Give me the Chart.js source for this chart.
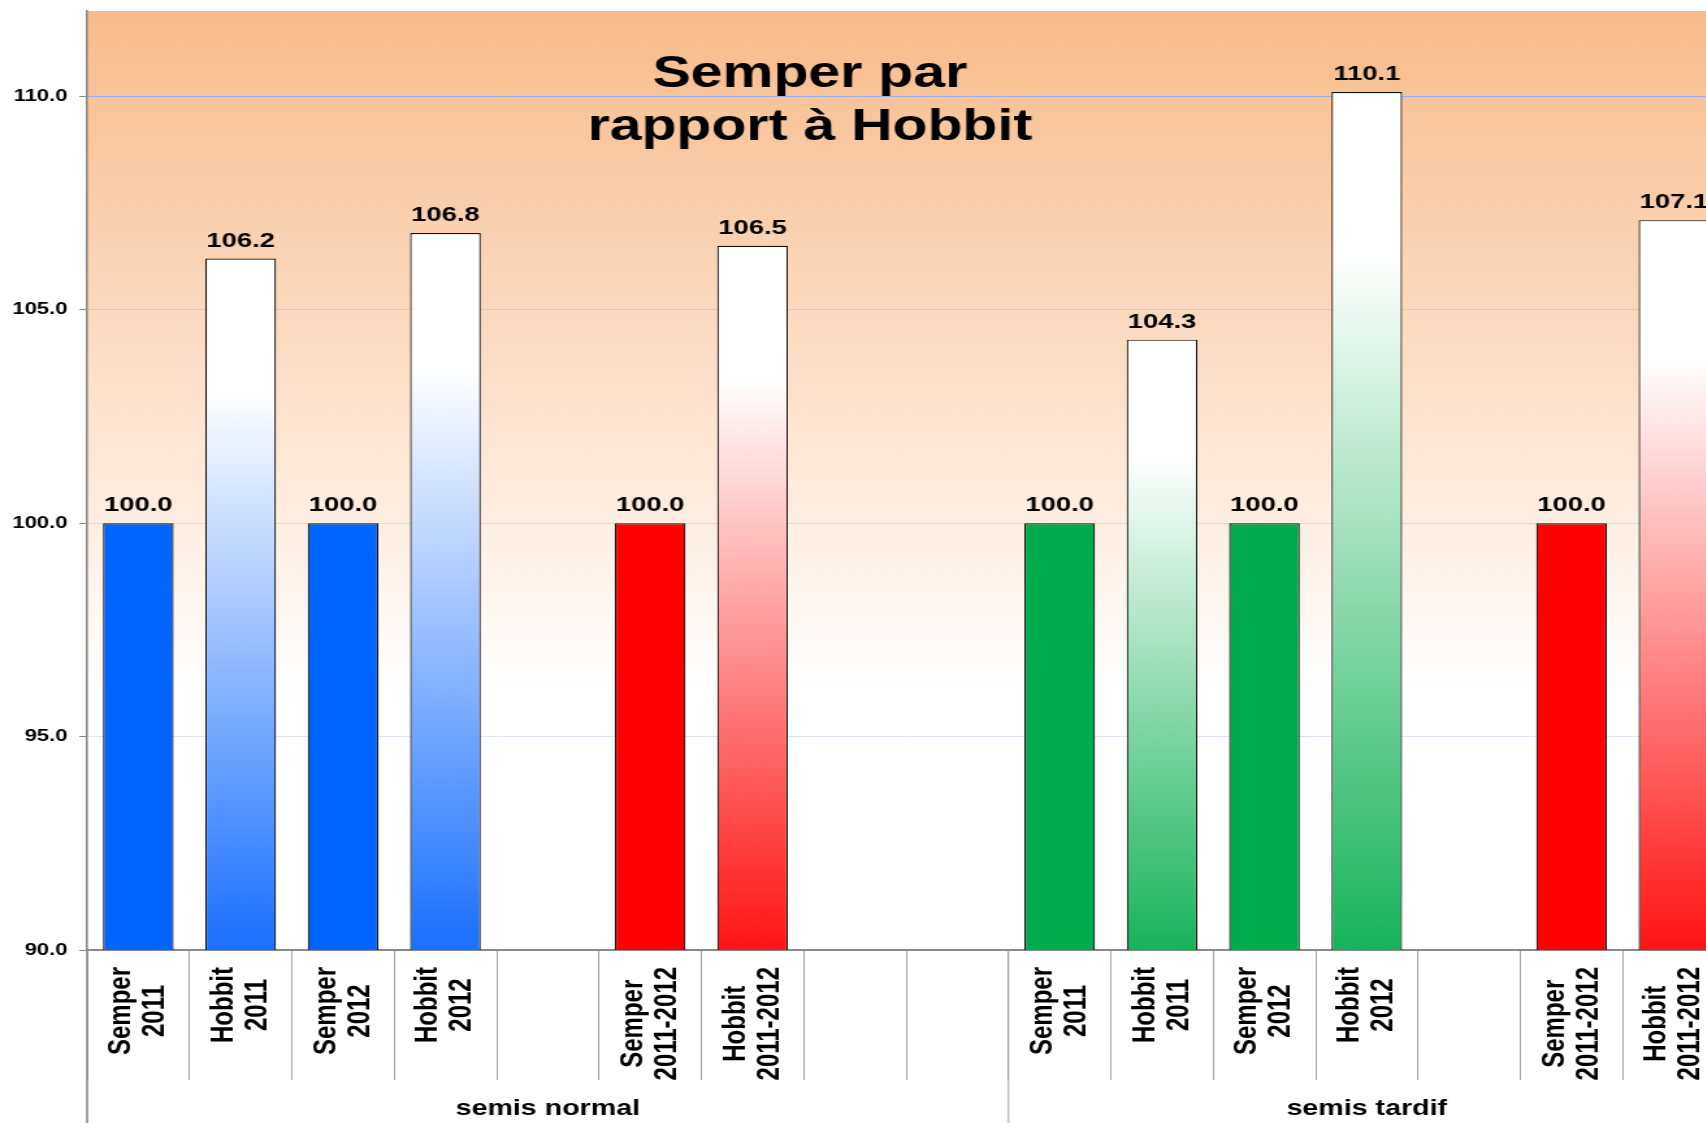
<!DOCTYPE html>
<html>
<head>
<meta charset="utf-8">
<script src="https://cdn.jsdelivr.net/npm/chart.js@4.4.1/dist/chart.umd.min.js"></script>
<style>
  html, body { margin: 0; padding: 0; background: #fff; overflow: hidden; }
  /* the original picture is stretched sideways, so the chart is too */
  #wrap { width: 1327px; height: 1123px; transform: scaleX(1.3); transform-origin: 0 0; }
</style>
</head>
<body>
<div id="wrap"><canvas id="chart" width="1327" height="1123"></canvas></div>
<script>
// Data
const categories = [
  ['Semper', '2011'], ['Hobbit', '2011'], ['Semper', '2012'], ['Hobbit', '2012'], [''],
  ['Semper', '2011-2012'], ['Hobbit', '2011-2012'], [''], [''],
  ['Semper', '2011'], ['Hobbit', '2011'], ['Semper', '2012'], ['Hobbit', '2012'], [''],
  ['Semper', '2011-2012'], ['Hobbit', '2011-2012']
];
const values = [100.0, 106.2, 100.0, 106.8, null, 100.0, 106.5, null, null, 100.0, 104.3, 100.0, 110.1, null, 100.0, 107.1];
const groupNames = ['semis normal', 'semis tardif'];
const groupSizes = [9, 7];
const yTicks = [90, 95, 100, 105, 110];
const titleLines = ['Semper par', 'rapport à Hobbit'];

// Styles
const tones = {
  blue: { solid: '#0064ff', end: '#1a70ff' },
  red: { solid: '#ff0000', end: '#ff1414' },
  green: { solid: '#00ab4e', end: '#17b35c' }
};
const barTone = ['blue', 'blue', 'blue', 'blue', null, 'red', 'red', null, null,
  'green', 'green', 'green', 'green', null, 'red', 'red'];
const gridShade = { 95: '#dfe5f2', 100: '#d3dbf0', 105: '#c3cde9', 110: '#96b2ea' };
const FONT = "'Liberation Sans', Arial, Helvetica, sans-serif";

function barColor(c) {
  const i = c.dataIndex;
  const tone = tones[barTone[i]];
  if (!tone) return 'transparent';
  if (categories[i][0] !== 'Hobbit') return tone.solid;
  const chart = c.chart;
  const y = chart.scales && chart.scales.y;
  if (!chart.chartArea || !y) return tone.solid;
  const top = y.getPixelForValue(values[i]);
  const bottom = y.getPixelForValue(yTicks[0]);
  if (!isFinite(top) || !isFinite(bottom)) return tone.solid;
  const g = chart.ctx.createLinearGradient(0, top, 0, bottom);
  g.addColorStop(0, '#ffffff');
  g.addColorStop(0.19, '#ffffff');
  g.addColorStop(1, tone.end);
  return g;
}

// Plot background: orange fading to white
const backgroundPlugin = {
  id: 'plotBackground',
  beforeDraw(chart) {
    const { ctx, chartArea: a } = chart;
    const g = ctx.createLinearGradient(0, a.top, 0, a.bottom);
    g.addColorStop(0, '#f8bb8a');
    g.addColorStop(0.72, '#ffffff');
    g.addColorStop(1, '#ffffff');
    ctx.save();
    ctx.fillStyle = g;
    ctx.fillRect(a.left, a.top, a.right - a.left, a.bottom - a.top);
    ctx.restore();
  }
};

// Title, value labels, category labels, groups
const textPlugin = {
  id: 'texts',
  afterDraw(chart) {
    const { ctx, chartArea: a } = chart;
    const x = chart.scales.x;
    const half = (x.getPixelForValue(1) - x.getPixelForValue(0)) / 2;
    ctx.save();
    ctx.fillStyle = '#000';

    // title
    ctx.font = `bold 44px ${FONT}`;
    ctx.textAlign = 'center';
    ctx.textBaseline = 'alphabetic';
    ctx.fillText(titleLines[0], 623, 87);
    ctx.fillText(titleLines[1], 623, 140);

    // values above the bars
    ctx.font = `bold 21px ${FONT}`;
    chart.getDatasetMeta(0).data.forEach((bar, i) => {
      if (values[i] == null) return;
      ctx.fillText(values[i].toFixed(1), bar.x, bar.y - 12);
    });

    // category labels, rotated
    ctx.font = `bold 24px ${FONT}`;
    ctx.textBaseline = 'middle';
    categories.forEach((lines, i) => {
      const w = Math.max(...lines.map(l => ctx.measureText(l).width));
      if (!w) return;
      ctx.save();
      ctx.translate(x.getPixelForValue(i), a.bottom + 17 + w / 2);
      ctx.rotate(-Math.PI / 2);
      lines.forEach((l, k) => ctx.fillText(l, 0, (k - (lines.length - 1) / 2) * 26));
      ctx.restore();
    });

    // group dividers and names
    ctx.font = `bold 22px ${FONT}`;
    ctx.textBaseline = 'alphabetic';
    let start = 0;
    groupNames.forEach((name, g) => {
      const end = start + groupSizes[g];
      const left = x.getPixelForValue(start) - half;
      const right = x.getPixelForValue(end - 1) + half;
      ctx.beginPath();
      ctx.strokeStyle = g === 0 ? '#8a8a8a' : '#a3a3a3';
      ctx.lineWidth = g === 0 ? 1.6 : 1;
      ctx.moveTo(left, a.bottom);
      ctx.lineTo(left, chart.height);
      ctx.stroke();
      ctx.fillText(name, (left + right) / 2, 1115);
      start = end;
    });
    ctx.restore();
  }
};

new Chart(document.getElementById('chart'), {
  type: 'bar',
  data: {
    labels: categories,
    datasets: [{
      data: values,
      backgroundColor: barColor,
      borderColor: '#111111',
      borderWidth: 1.2,
      categoryPercentage: 1,
      barPercentage: 0.69
    }]
  },
  options: {
    responsive: false,
    animation: false,
    layout: { padding: { top: 11, left: 0, right: 0, bottom: 0 } },
    plugins: { legend: { display: false }, tooltip: { enabled: false }, title: { display: false } },
    scales: {
      x: {
        afterFit: s => { s.height = 173; s.paddingLeft = 0; s.paddingRight = 0; },
        ticks: { display: false },
        grid: { drawOnChartArea: false, drawTicks: true, tickLength: 130, tickColor: '#a3a3a3', offset: true },
        border: { color: '#8a8a8a', width: 2 }
      },
      y: {
        min: 90,
        max: 112,
        afterFit: s => { s.width = 67; s.paddingTop = 0; s.paddingBottom = 0; },
        afterBuildTicks: s => { s.ticks = yTicks.map(v => ({ value: v })); },
        ticks: {
          font: { family: FONT, size: 17, weight: 'bold' },
          color: '#000',
          padding: 9,
          callback: v => Number(v).toFixed(1)
        },
        grid: {
          color: c => (c.tick && gridShade[c.tick.value]) || 'transparent',
          tickColor: '#8a8a8a',
          tickLength: 6,
          lineWidth: 1
        },
        border: { color: '#8a8a8a', width: 1.6 }
      }
    }
  },
  plugins: [backgroundPlugin, textPlugin]
});
</script>
</body>
</html>
